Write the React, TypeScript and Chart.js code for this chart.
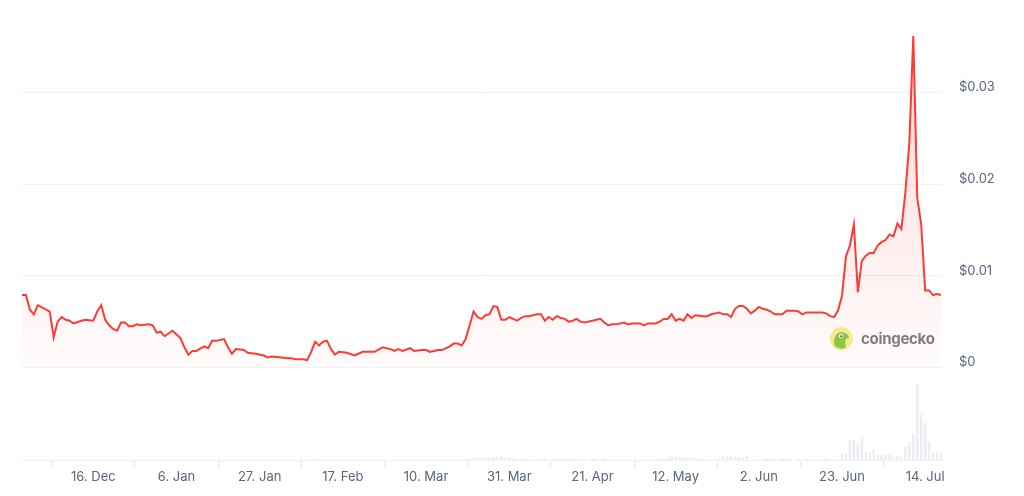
import React, { useEffect, useRef } from "react";
import { Chart, registerables } from "chart.js";

Chart.register(...registerables);

// Day offsets from 28 Nov (day 0)
const priceDays = [
  0, 1, 2, 3, 4, 7, 8, 9, 10, 11, 12, 13, 15, 16, 18, 19, 20, 21, 22, 23, 24, 25, 26, 27, 28, 29, 30, 32, 33, 34, 35, 36, 38, 39,
  40, 41, 42, 43, 44, 46, 47, 48, 49, 51, 52, 53, 54, 56, 57, 59, 61, 62, 63, 65, 67, 68, 69, 71, 72, 73, 74, 75, 76, 77, 78, 79,
  80, 82, 84, 86, 88, 89, 91, 93, 94, 95, 96, 98, 99, 101, 102, 103, 105, 106, 108, 109, 110, 111, 112, 113, 114, 115, 116, 117,
  118, 119, 120, 121, 122, 123, 124, 125, 126, 127, 128, 130, 131, 132, 133, 134, 135, 136, 137, 138, 139, 140, 141, 142, 144,
  145, 146, 147, 148, 149, 150, 152, 153, 154, 156, 157, 158, 160, 161, 162, 163, 164, 165, 166, 167, 168, 169, 170, 172, 173,
  174, 175, 176, 177, 178, 179, 180, 181, 182, 183, 184, 185, 186, 187, 188, 189, 190, 191, 192, 193, 195, 196, 197, 198, 200,
  202, 203, 204, 205, 206, 207, 208, 209, 210, 211, 212, 213, 214, 215, 216, 217, 218, 219, 220, 221, 222, 223, 224, 225, 226,
  227, 228, 229, 230, 231, 232,
];
const prices = [
  0.0079, 0.0079, 0.0063, 0.0058, 0.0068, 0.0061, 0.0033, 0.005, 0.0055, 0.0052, 0.0051, 0.0048, 0.0051, 0.0052, 0.0051, 0.0061,
  0.0068, 0.0052, 0.0046, 0.0042, 0.004, 0.0049, 0.0049, 0.0045, 0.0045, 0.0047, 0.0046, 0.0047, 0.0046, 0.0038, 0.0039, 0.0034,
  0.004, 0.0036,
  0.0032, 0.0022, 0.0014, 0.0018, 0.0018, 0.0023, 0.0021, 0.0029, 0.0029, 0.0031, 0.0022, 0.0015, 0.002, 0.0019, 0.0016, 0.0015,
  0.0013, 0.0011, 0.0012, 0.0011, 0.001, 0.001, 0.0009, 0.0009, 0.0008, 0.0017, 0.0028, 0.0024, 0.0028, 0.0029, 0.002, 0.0014,
  0.0017, 0.0016, 0.0013, 0.0017, 0.0017, 0.0017, 0.0022, 0.002, 0.0018, 0.002, 0.0018, 0.0021, 0.0018, 0.0019, 0.0019, 0.0017,
  0.0019, 0.0019, 0.0023, 0.0026, 0.0026, 0.0024, 0.0031, 0.0046, 0.0061, 0.0055, 0.0053, 0.0057,
  0.0058, 0.0067, 0.0066, 0.0052, 0.0052, 0.0055, 0.0053, 0.0051, 0.0054, 0.0056, 0.0056, 0.0058, 0.0058, 0.0051, 0.0055, 0.0052,
  0.0056, 0.0054, 0.0053, 0.005, 0.0051, 0.0053, 0.005, 0.0049, 0.0051,
  0.0052, 0.0053, 0.0049, 0.0046, 0.0047, 0.0047, 0.0049, 0.0047, 0.0048, 0.0048, 0.0046, 0.0048, 0.0048, 0.005, 0.0053, 0.0053,
  0.0058, 0.0051, 0.0053, 0.0051, 0.0058, 0.0054, 0.0057, 0.0056, 0.0056,
  0.0058, 0.0059, 0.006, 0.0058, 0.0058, 0.0055, 0.0064, 0.0067, 0.0067, 0.0064, 0.0059, 0.0062, 0.0066, 0.0064, 0.0063, 0.0061,
  0.0058, 0.0058, 0.0058, 0.0062, 0.0062, 0.0061, 0.0058, 0.006, 0.006,
  0.006, 0.0059, 0.0056, 0.0055, 0.0062, 0.0078, 0.0121, 0.0133, 0.0156, 0.0082, 0.0116, 0.0122, 0.0125, 0.0125, 0.0133, 0.0137,
  0.0139, 0.0145, 0.0143, 0.0157, 0.0151, 0.0191, 0.0245, 0.0362,
  0.0185, 0.0156, 0.0084, 0.0084, 0.0079, 0.008, 0.0079,
];

const volumeDays = [
  21, 74, 112, 113, 114, 115, 116, 117, 118, 119, 120, 121, 122, 123, 124, 125, 126, 127, 131, 132, 134, 135, 136, 137, 138, 139,
  141, 142, 144, 145, 147, 160, 161, 162, 163, 164, 165, 166, 167, 168, 169, 170, 171, 172, 175, 176, 177, 178, 179, 180, 181,
  182, 183, 188, 189, 190, 192, 193, 194, 196, 198, 203, 207, 208, 209, 210, 211, 212, 213, 214, 215, 216, 217, 218, 219, 220,
  221, 222, 223, 224, 225, 226, 227, 228, 229, 230, 231, 232,
];
const volumes = [
  0.5, 0.8, 1, 1, 2.5, 2, 2, 2.5, 2, 3, 2.5, 3.5, 2, 2, 2, 1, 1, 1, 1, 1, 1, 1, 1, 1, 1, 1, 1, 1, 1.5, 1, 1.5, 1, 1, 1, 2, 4.5,
  3, 3, 3, 2.5, 2, 2, 1.5, 1, 1, 1, 3.5, 3, 3.5, 2.5, 3, 2.5, 3.5, 1.5, 1.5, 1, 1.5, 1.5, 1, 1, 1, 1, 6, 6, 20, 20, 17, 22, 8,
  7, 10, 5, 5, 5, 5, 3, 4, 3, 13, 18, 26, 76, 45, 37, 18, 8, 8, 7,
];

const tickDays = [18, 39, 60, 81, 102, 123, 144, 165, 186, 207, 228];
const tickLabels = [
  "16. Dec", "6. Jan", "27. Jan", "17. Feb", "10. Mar", "31. Mar", "21. Apr", "12. May", "2. Jun", "23. Jun", "14. Jul",
];
const priceTicks = [0, 0.01, 0.02, 0.03];

const FONT = "Inter, 'Noto Sans', 'DejaVu Sans', sans-serif";
const LABEL_COLOR = "#58667e";
const GRID_COLOR = "#eff2f5";

export default function App() {
  const ref = useRef<HTMLCanvasElement>(null);

  useEffect(() => {
    const canvas = ref.current;
    if (!canvas) return;
    const volAxisMax = Math.max(...volumes) * 5.76;
    const chart = new Chart(canvas, {
      type: "line",
      data: {
        datasets: [
          {
            type: "line",
            label: "Price",
            data: priceDays.map((d, i) => ({ x: d, y: prices[i] })),
            yAxisID: "y",
            borderColor: "#ff3a33",
            borderWidth: 2,
            pointRadius: 0,
            tension: 0,
            fill: "origin",
            order: 1,
            backgroundColor: (c: any) => {
              const ch = c.chart;
              const area = ch.chartArea;
              if (!area) return "rgba(255,58,51,0.06)";
              const y0 = ch.scales.y.getPixelForValue(0);
              const g = ch.ctx.createLinearGradient(0, area.top, 0, y0);
              g.addColorStop(0, "rgba(255,58,51,0.2)");
              g.addColorStop(1, "rgba(255,58,51,0.015)");
              return g;
            },
          } as any,
          {
            type: "bar",
            label: "Volume",
            data: volumeDays.map((d, i) => ({ x: d, y: volumes[i] })),
            yAxisID: "yVol",
            backgroundColor: "#eceef3",
            barThickness: 2,
            order: 2,
          } as any,
        ],
      },
      options: {
        animation: false,
        responsive: true,
        maintainAspectRatio: false,
        layout: { padding: { left: 22, top: 22, right: 0, bottom: 0 } },
        plugins: { legend: { display: false }, tooltip: { enabled: false } },
        events: [],
        scales: {
          x: {
            type: "linear",
            min: 0,
            max: 232.5,
            offset: false,
            afterBuildTicks: (scale: any) => {
              scale.ticks = tickDays.map((v) => ({ value: v }));
            },
            afterFit: (scale: any) => {
              scale.height = 36;
            },
            grid: {
              display: true,
              drawOnChartArea: false,
              drawTicks: true,
              tickLength: 7,
              color: "#e6e9ee",
            },
            border: { display: true, color: GRID_COLOR },
            ticks: {
              autoSkip: false,
              maxRotation: 0,
              padding: 2,
              color: LABEL_COLOR,
              font: { family: FONT, size: 13 },
              callback: (value: any) => {
                const i = tickDays.indexOf(Number(value));
                return i >= 0 ? tickLabels[i] : "";
              },
            },
          },
          y: {
            type: "linear",
            position: "right",
            min: -0.0101,
            max: 0.0375,
            afterBuildTicks: (scale: any) => {
              scale.ticks = priceTicks.map((v) => ({ value: v }));
            },
            afterFit: (scale: any) => {
              scale.width = 81;
            },
            grid: { color: GRID_COLOR, drawTicks: false, lineWidth: 1 },
            border: { display: false },
            ticks: {
              padding: 16,
              labelOffset: -5,
              color: LABEL_COLOR,
              font: { family: FONT, size: 13 },
              callback: (v: any) => (Number(v) === 0 ? "$0" : "$" + Number(v).toFixed(2)),
            },
          },
          yVol: {
            type: "linear",
            display: false,
            min: 0,
            max: volAxisMax,
          },
        },
      },
    });
    return () => chart.destroy();
  }, []);

  return (
    <div style={{ position: "absolute", left: 0, top: 0, width: 1024, height: 496, background: "#fff" }}>
      <canvas ref={ref} />
      <div
        style={{
          position: "absolute",
          left: 830,
          top: 327,
          display: "flex",
          alignItems: "center",
          gap: 8,
          pointerEvents: "none",
        }}
      >
        <svg width="23" height="23" viewBox="0 0 24 24">
          <circle cx="12" cy="12" r="12" fill="#f7e98f" />
          <path d="M4.5 19 C3.5 12 6 5.5 12 5.5 C16 5.5 19 8 20 11 L16.5 12.5 C15.5 15 15.8 18 16.8 21 C12.5 23.5 7.5 22.5 4.5 19 Z" fill="#8dc647" />
          <circle cx="11.5" cy="9.5" r="2.3" fill="#fff" />
          <circle cx="11.8" cy="9.7" r="1.1" fill="#3a3a3a" />
        </svg>
        <span
          style={{
            fontFamily: FONT,
            fontWeight: 700,
            fontSize: 15,
            color: "#7d7d7d",
            letterSpacing: -0.3,
          }}
        >
          coingecko
        </span>
      </div>
    </div>
  );
}
